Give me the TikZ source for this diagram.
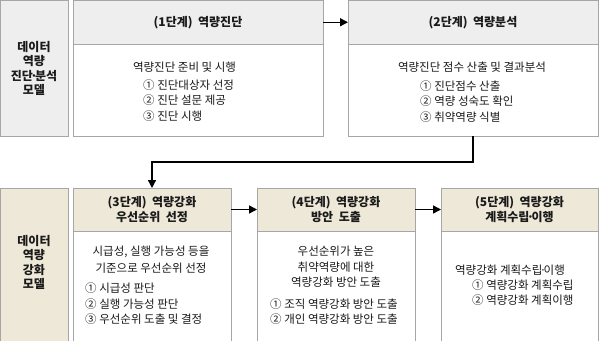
\documentclass[tikz,border=0pt]{standalone}
\usepackage{fontspec}
\setmainfont{Noto Sans CJK KR}
\usetikzlibrary{arrows.meta}
\definecolor{bd}{HTML}{A6A6A6}
\definecolor{grayh}{HTML}{EEEEEE}
\definecolor{beige}{HTML}{EEE8D8}
\definecolor{txt}{HTML}{1A1A1A}
\newcommand{\mdotx}{\kern-0.22em·\kern-0.22em}
\begin{document}
\begin{tikzpicture}[x=1pt,y=-1pt,
  box/.style={draw=bd,line width=0.9pt,inner sep=0pt,outer sep=0pt,anchor=north west},
  grayfill/.style={box,fill=grayh},
  beigefill/.style={box,fill=beige},
  whitefill/.style={box,fill=white},
  hdr/.style={text=txt,font=\fontsize{12}{14.5}\selectfont\bfseries,align=center,inner sep=0pt},
  lbl/.style={text=txt,font=\fontsize{12}{14.5}\selectfont\bfseries,align=center,inner sep=0pt},
  body/.style={text=txt,font=\fontsize{11.5}{15.5}\selectfont,align=center,inner sep=0pt},
  lst/.style={text=txt,font=\fontsize{11.5}{15.5}\selectfont,align=left,inner sep=0pt,anchor=west},
  arr/.style={line width=1.4pt,-{Triangle[length=8pt,width=8pt]}}]
\useasboundingbox (0,0) rectangle (599,340);
\clip (0,0) rectangle (599,340);
% top row
\node[grayfill,minimum width=67.5pt,minimum height=135.5pt] (lt) at (0.5,0.5) {};
\node[grayfill,minimum width=250pt,minimum height=43.5pt] (s1h) at (73,0.5) {};
\node[whitefill,minimum width=250pt,minimum height=92pt] (s1b) at (73,44) {};
\node[grayfill,minimum width=250pt,minimum height=43.5pt] (s2h) at (348,0.5) {};
\node[whitefill,minimum width=250pt,minimum height=92pt] (s2b) at (348,44) {};
% bottom row
\node[beigefill,minimum width=67.5pt,minimum height=153pt] (lb) at (0.5,188) {};
\node[beigefill,minimum width=158pt,minimum height=43pt] (s3h) at (73,188) {};
\node[whitefill,minimum width=158pt,minimum height=110pt] (s3b) at (73,231) {};
\node[beigefill,minimum width=158pt,minimum height=43pt] (s4h) at (257,188) {};
\node[whitefill,minimum width=158pt,minimum height=110pt] (s4b) at (257,231) {};
\node[beigefill,minimum width=157pt,minimum height=43pt] (s5h) at (441,188) {};
\node[whitefill,minimum width=157pt,minimum height=110pt] (s5b) at (441,231) {};
% labels
\node[lbl] (ltt) at (34,68.5) {데이터\\역량\\진단\mdotx 분석\\모델};
\node[lbl] (lbt) at (34,262.5) {데이터\\역량\\강화\\모델};
% headers
\node[hdr] (s1ht) at (s1h.center) {(1단계)\ \ 역량진단};
\node[hdr] (s2ht) at (s2h.center) {(2단계)\ \ 역량분석};
\node[hdr] (s3ht) at (s3h.center) {(3단계)\ \ 역량강화\\우선순위\ \ 선정};
\node[hdr] (s4ht) at (s4h.center) {(4단계)\ \ 역량강화\\방안\ \ 도출};
\node[hdr] (s5ht) at (s5h.center) {(5단계)\ \ 역량강화\\계획수립\mdotx 이행};
% bodies
\node[body] (s1t) at (184.5,67) {역량진단 준비 및 시행};
\node[lst] (s1l) at (143,100.5) {① 진단대상자 선정\\② 진단 설문 제공\\③ 진단 시행};
\node[body] (s2t) at (472,67) {역량진단 점수 산출 및 결과분석};
\node[lst] (s2l) at (420,101.5) {① 진단점수 산출\\② 역량 성숙도 확인\\③ 취약역량 식별};
\node[body,font=\fontsize{11.5}{17}\selectfont] (s3t) at (151,259.5) {시급성, 실행 가능성 등을\\기준으로 우선순위 선정};
\node[lst] (s3l) at (85,304) {① 시급성 판단\\② 실행 가능성 판단\\③ 우선순위 도출 및 결정};
\node[body] (s4t) at (336,267) {우선순위가 높은\\취약역량에 대한\\역량강화 방안 도출};
\node[lst] (s4l) at (270,311.5) {① 조직 역량강화 방안 도출\\② 개인 역량강화 방안 도출};
\node[body] (s5t) at (510,270) {역량강화 계획수립\mdotx 이행};
\node[lst] (s5l) at (472,292.5) {① 역량강화 계획수립\\② 역량강화 계획이행};
% connectors
\draw[arr] (s1h.east) -- (s2h.west);
\draw[arr] (s2b.south) -- ++(0,26) -| (s3h.north);
\draw[arr] (s3h.east) -- (s4h.west);
\draw[arr] (s4h.east) -- (s5h.west);
\end{tikzpicture}
\end{document}
